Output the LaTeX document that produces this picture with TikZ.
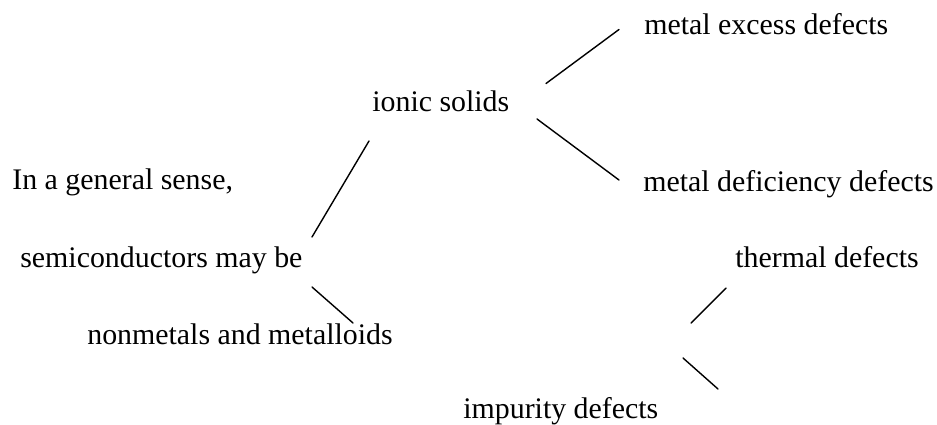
\documentclass[tikz,border=0pt]{standalone}
\usepackage{fontspec}
\setmainfont{Liberation Serif}
\usetikzlibrary{calc}
\usepackage{tkz-euclide}
\tikzset{lbl/.style={anchor=base west,inner sep=0pt,font=\fontsize{17}{20}\selectfont}}

\begin{document}
\begin{tikzpicture}
\useasboundingbox (0,0) rectangle (18.74,8.48);
\tkzSetUpLine[line width=0.8pt,color=black]

% line ends
\tkzDefPoints{10.92/6.81/P1,12.38/7.89/Q1,10.74/6.10/P2,12.38/4.88/Q2}
\tkzDefPoints{7.38/5.66/P3,6.24/3.74/Q3,6.24/2.74/P4,7.06/2.02/Q4}
\tkzDefPoints{13.82/2.02/P5,14.52/2.72/Q5,13.66/1.32/P6,14.36/0.70/Q6}

\node[lbl] (excess) at (12.88,7.79) {metal excess defects};
\node[lbl] (ionic) at (7.44,6.26) {ionic solids};
\node[lbl] (deficiency) at (12.86,4.66) {metal deficiency defects};
\node[lbl] (sense) at (0.24,4.70) {In a general sense,};
\node[lbl] (semi) at (0.40,3.14) {semiconductors may be};
\node[lbl] (thermal) at (14.70,3.14) {thermal defects};
\node[lbl] (nonmetals) at (1.74,1.60) {nonmetals and metalloids};
\node[lbl] (impurity) at (9.26,0.12) {impurity defects};

\tkzDrawSegments(P1,Q1 P2,Q2 P3,Q3 P4,Q4 P5,Q5 P6,Q6)
\end{tikzpicture}
\end{document}
